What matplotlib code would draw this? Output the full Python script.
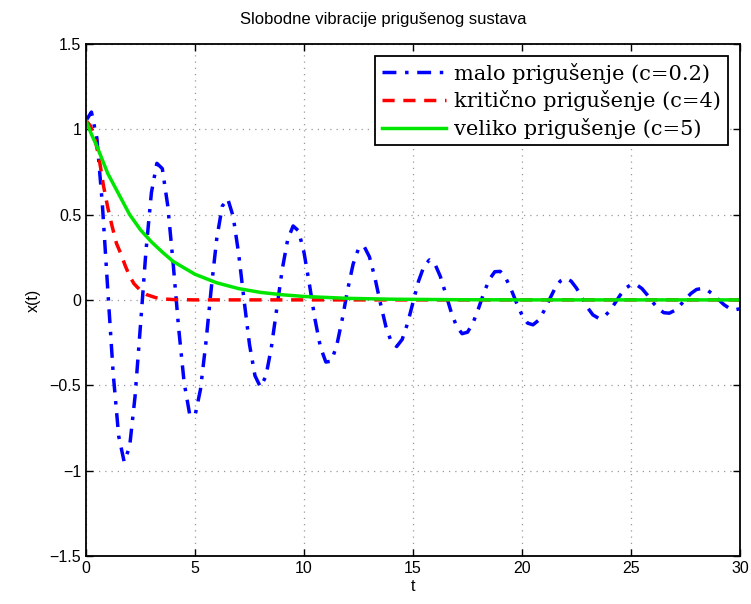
import numpy as np
import matplotlib
matplotlib.use("Agg")
import matplotlib.pyplot as plt

# time grid (every 0.25 s) and values
t = np.arange(0, 30.001, 0.25)

x_malo = [1.05, 1.10, 0.946, 0.561, 0.057, -0.435, -0.798, -0.948, -0.861, -0.565,
          -0.147, 0.286, 0.628, 0.800, 0.769, 0.551, 0.210, -0.166, -0.483, -0.667,
          -0.679, -0.525, -0.250, 0.073, 0.362, 0.549, 0.592, 0.489, 0.272, -0.002,
          -0.262, -0.444, -0.510, -0.448, -0.280, -0.051, 0.178, 0.353, 0.433, 0.404,
          0.277, 0.089, -0.112, -0.275, -0.364, -0.359, -0.267, -0.115, 0.059, 0.209,
          0.301, 0.315, 0.252, 0.130, -0.018, -0.154, -0.246, -0.273, -0.232, -0.137,
          -0.013, 0.109, 0.197, 0.234, 0.211, 0.138, 0.035, -0.072, -0.156, -0.198,
          -0.189, -0.135, -0.051, 0.042, 0.120, 0.165, 0.167, 0.129, 0.061, -0.019,
          -0.090, -0.136, -0.146, -0.120, -0.066, 0.001, 0.065, 0.110, 0.126, 0.110,
          0.068, 0.012, -0.045, -0.088, -0.107, -0.099, -0.068, -0.021, 0.028, 0.068,
          0.090, 0.089, 0.066, 0.028, -0.015, -0.052, -0.075, -0.078, -0.062, -0.032,
          0.005, 0.038, 0.061, 0.067, 0.057, 0.033, 0.003, -0.027, -0.049, -0.058,
          -0.052]

t_krit = [0, 0.2, 0.4, 0.6, 0.8, 1.0, 1.2, 1.4, 1.6, 1.8, 2.0, 2.2, 2.5, 2.8, 3.2, 3.6, 4.0, 5.0, 30]
x_krit = [1.05, 1.02, 0.95, 0.83, 0.67, 0.54, 0.43, 0.33, 0.27, 0.20, 0.14, 0.095, 0.055, 0.03, 0.013, 0.005, 0.002, 0.0, 0.0]

t_veliko = [0, 0.25, 0.5, 0.75, 1.0, 1.5, 2.0, 2.5, 3.0, 3.5, 4.0, 5.0, 6.0, 7.0, 8.0, 9.0, 10.0, 12.0, 14.0, 17.0, 20.0, 30.0]
x_veliko = [1.05, 0.97, 0.90, 0.82, 0.74, 0.62, 0.50, 0.41, 0.34, 0.28, 0.225, 0.15, 0.10, 0.066, 0.044, 0.03, 0.02, 0.009, 0.004, 0.001, 0.0, 0.0]

labels = ["malo prigušenje (c=0.2)", "kritično prigušenje (c=4)", "veliko prigušenje (c=5)"]

plt.rcParams['font.family'] = ['Liberation Sans', 'DejaVu Sans']

fig = plt.figure(figsize=(7.51, 6.04), dpi=100)
ax = fig.add_axes([0.1145, 0.0795, 0.871, 0.848])

ax.plot(t, x_malo, color=(0, 0, 1), lw=2.5, linestyle=(0, (4, 2.5, 1, 2.5)), label=labels[0])
ax.plot(t_krit, x_krit, color=(1, 0, 0), lw=2.5, linestyle=(0, (3.5, 2.5)), label=labels[1])
ax.plot(t_veliko, x_veliko, color=(0, 0.9, 0), lw=2.5, label=labels[2])

ax.set_xlim(0, 30)
ax.set_ylim(-1.5, 1.5)
ax.set_xticks(np.arange(0, 31, 5))
ax.set_yticks(np.arange(-1.5, 1.51, 0.5))
ax.set_yticklabels(["\u22121.5", "\u22121", "\u22120.5", "0", "0.5", "1", "1.5"])
ax.tick_params(direction='in', top=True, right=True, labelsize=11.5, length=5, width=1)
ax.grid(True, linestyle=(0, (1, 4)), color='0.6', lw=0.9)
for s in ax.spines.values():
    s.set_linewidth(1.3)

ax.set_title("Slobodne vibracije prigušenog sustava", fontsize=12, pad=14, x=0.455)
ax.set_xlabel("t", fontsize=11.5, labelpad=2)
ax.set_ylabel("x(t)", fontsize=11.5, labelpad=6)

leg = ax.legend(loc='upper right', prop={'family': 'DejaVu Serif', 'size': 15},
                fancybox=False, edgecolor='black', framealpha=1,
                handlelength=3.1, borderpad=0.3, labelspacing=0.32, handletextpad=0.4,
                borderaxespad=0.6)
leg.get_frame().set_linewidth(1.3)

fig.savefig("out.png", dpi=100)
